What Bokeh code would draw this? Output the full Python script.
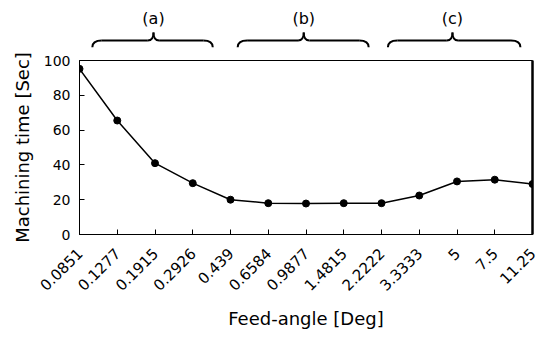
import math
from bokeh.plotting import figure
from bokeh.layouts import column
from bokeh.models import LinearAxis, FixedTicker, Range1d
from bokeh.core.properties import value
from bokeh.embed import file_html
from bokeh.resources import INLINE

# ---- data ----
feed_angles = ["0.0851", "0.1277", "0.1915", "0.2926", "0.439", "0.6584", "0.9877",
               "1.4815", "2.2222", "3.3333", "5", "7.5", "11.25"]
machining_time = [95.2, 65.5, 41.0, 29.5, 20.0, 18.0, 17.8, 18.0, 18.0, 22.4, 30.5, 31.5, 29.0]
y_ticks = [0, 20, 40, 60, 80, 100]

group_labels = ["(a)", "(b)", "(c)"]
group_start = [0.34, 4.19, 8.17]
group_mid = [1.96, 5.94, 9.88]
group_end = [3.53, 7.66, 11.68]

FONT = "DejaVu Sans"
xs = list(range(len(feed_angles)))
x_range = Range1d(0, 12)

# ---- brace strip above the plot ----
top = figure(width=539, height=48, x_range=x_range, y_range=Range1d(106.9, 134.5),
             output_backend="svg", toolbar_location=None,
             min_border_left=79, min_border_right=7, min_border_top=0, min_border_bottom=0)
top.axis.visible = False
top.grid.visible = False
top.outline_line_color = None

yb, yh, yt = 107.6, 111.5, 116.1
we, wt = 0.25, 0.15
for x0, xm, x1 in zip(group_start, group_mid, group_end):
    top.quadratic(x0=[x0, xm - wt, xm, x1 - we], y0=[yb, yh, yt, yh],
                  x1=[x0 + we, xm, xm + wt, x1], y1=[yh, yt, yh, yb],
                  cx=[x0, xm, xm, x1], cy=[yh, yh, yh, yh],
                  line_color="black", line_width=2)
    top.segment(x0=[x0 + we, xm + wt], y0=[yh, yh], x1=[xm - wt, x1 - we], y1=[yh, yh],
                line_color="black", line_width=2)

top.text(x=group_mid, y=[124.1] * 3, text=group_labels, text_font=value(FONT),
         text_font_size="16px", text_align="center", text_baseline="middle", text_color="black")

# ---- main plot ----
p = figure(width=539, height=289, x_range=x_range, y_range=Range1d(0, 100),
           output_backend="svg", toolbar_location=None,
           min_border_left=79, min_border_right=7, min_border_top=12, min_border_bottom=103)
p.outline_line_color = "black"
p.outline_line_width = 1
p.xgrid.visible = False
p.ygrid.visible = False

xa = p.xaxis[0]
xa.ticker = FixedTicker(ticks=xs)
xa.major_label_overrides = {i: s for i, s in enumerate(feed_angles)}
xa.major_label_orientation = math.pi / 4
xa.major_tick_in = 5
xa.major_tick_out = 0
xa.minor_tick_line_color = None
xa.major_label_text_font = FONT
xa.major_label_text_font_size = "15px"
xa.major_label_text_color = "black"
xa.major_label_standoff = 16
xa.axis_line_color = "black"
xa.axis_label = "Feed-angle [Deg]"
xa.axis_label_text_font = FONT
xa.axis_label_text_font_size = "18px"
xa.axis_label_text_font_style = "normal"
xa.axis_label_text_color = "black"
xa.axis_label_standoff = 9

ya = p.yaxis[0]
ya.ticker = FixedTicker(ticks=y_ticks)
ya.major_tick_in = 5
ya.major_tick_out = 0
ya.minor_tick_line_color = None
ya.major_label_text_font = FONT
ya.major_label_text_font_size = "14px"
ya.major_label_text_color = "black"
ya.major_label_standoff = 9
ya.axis_line_color = "black"
ya.axis_label = "Machining time [Sec]"
ya.axis_label_text_font = FONT
ya.axis_label_text_font_size = "18px"
ya.axis_label_text_font_style = "normal"
ya.axis_label_text_color = "black"
ya.axis_label_standoff = 8

ra = LinearAxis(ticker=FixedTicker(ticks=[]), axis_line_width=2.5,
                axis_line_color="black", major_tick_line_color=None,
                minor_tick_line_color=None, major_label_text_font_size="0px",
                major_tick_out=0, major_label_standoff=0)
p.add_layout(ra, "right")

p.line(xs, machining_time, line_color="black", line_width=1.5)
p.scatter(xs, machining_time, size=7, marker="circle", fill_color="black", line_color="black")

layout = column(top, p, spacing=0)
open("out.html", "w").write(file_html(layout, INLINE))
